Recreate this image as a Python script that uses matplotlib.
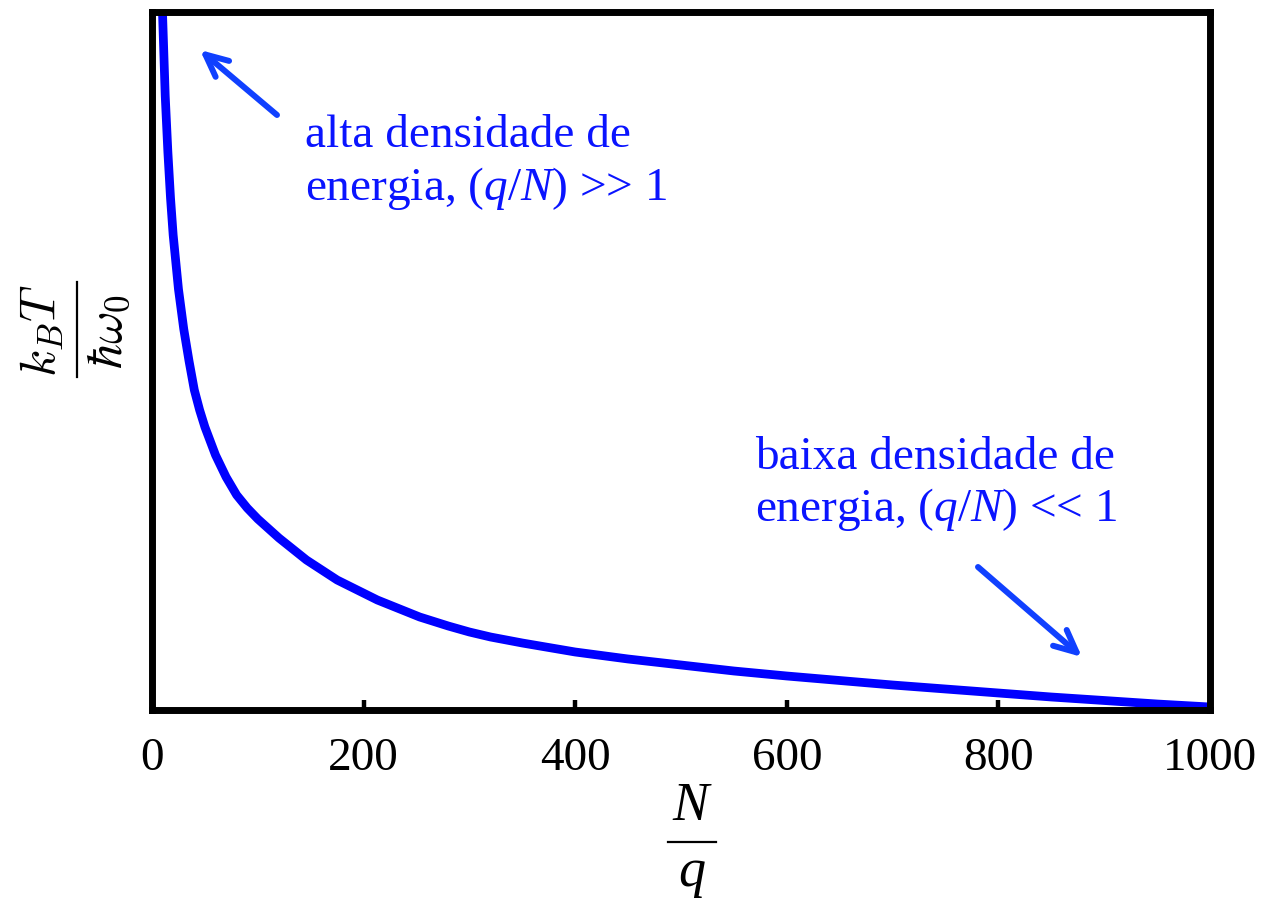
import matplotlib
matplotlib.use("Agg")
import matplotlib.pyplot as plt
from matplotlib.lines import Line2D

# Data (x = N/q, y in arbitrary units of k_B T / hbar w0)
x_vals = [8, 10, 12.5, 15, 17.5, 20, 25, 30, 35, 40, 45, 50, 60, 70, 80, 90,
          100, 120, 146, 175, 213, 253, 280, 300, 320, 350, 400, 450, 500,
          550, 600, 650, 700, 750, 800, 850, 900, 950, 1000]
y_vals = [788, 695, 614, 558, 512, 475, 421, 381, 349, 320, 300, 283, 255,
          233, 215, 202, 191, 172, 150, 130, 110, 93, 84, 78, 73, 67, 58, 51,
          45, 39, 34, 29.5, 25, 21, 17, 13, 9.5, 6, 3]
x_ticks = [0, 200, 400, 600, 800, 1000]
x_ticklabels = ["0", "200", "400", "600", "800", "1000"]

plt.rcParams['mathtext.fontset'] = 'custom'
plt.rcParams['mathtext.rm'] = 'Liberation Serif'
plt.rcParams['mathtext.it'] = 'Liberation Serif:italic'
plt.rcParams['mathtext.bf'] = 'Liberation Serif:bold'

W, H = 1266, 899
fig = plt.figure(figsize=(W / 100, H / 100), dpi=100)
L, R, T, B = 152, 1210, 12, 710
ax = fig.add_axes([L / W, 1 - B / H, (R - L) / W, (B - T) / H])

ax.plot(x_vals, y_vals, color='#0000ff', lw=6.3, solid_capstyle='butt',
        solid_joinstyle='round')
ax.set_xlim(0, 1000)
ax.set_ylim(0, 698)

for s in ax.spines.values():
    s.set_linewidth(5)
    s.set_color('black')

ax.set_xticks(x_ticks)
ax.set_xticklabels(x_ticklabels, fontfamily='Liberation Serif', fontsize=34)
ax.tick_params(axis='x', direction='in', length=7, width=3.2, pad=20,
               top=False, bottom=True)
ax.set_yticks([])

def fx(px):
    return px / W

def fy(py):
    return 1 - py / H

# x axis label: N over q
fig.text(fx(692), fy(820), r'$N$', fontsize=39, ha='center', va='baseline',
         math_fontfamily='custom')
fig.add_artist(Line2D([fx(668), fx(716)], [fy(842), fy(842)],
                      transform=fig.transFigure, color='black', lw=1.6))
fig.text(fx(692), fy(886), r'$q$', fontsize=39, ha='center', va='baseline',
         math_fontfamily='custom')

# y axis label: k_B T over hbar omega_0
fig.text(fx(42), fy(330), r'$k_B T$', fontsize=36, ha='center', va='center',
         rotation=90, math_fontfamily='cm')
fig.add_artist(Line2D([fx(77), fx(77)], [fy(282), fy(377)],
                      transform=fig.transFigure, color='black', lw=1.6))
fig.text(fx(108), fy(332), r'$\hbar\omega_0$', fontsize=36, ha='center',
         va='center', rotation=90, math_fontfamily='cm')

def px2data(px, py):
    return (px - L) / ((R - L) / 1000.0), (B - py)

txt_color = '#0a14ff'
arr_color = '#1040ff'
fs = 34

def put(px, py, s):
    x, y = px2data(px, py)
    ax.text(x, y, s, fontsize=fs, color=txt_color, family='Liberation Serif',
            ha='left', va='baseline', math_fontfamily='custom')

put(305, 147, 'alta densidade de')
put(305, 200, 'energia, ($q$/$N$) >> 1')
put(755, 469, 'baixa densidade de')
put(755, 521, 'energia, ($q$/$N$) << 1')

def arrow(p0, p1):
    ax.annotate('', xy=px2data(*p1), xytext=px2data(*p0),
                arrowprops=dict(arrowstyle='->,head_length=1.6,head_width=0.75',
                                color=arr_color, lw=4.3, shrinkA=0, shrinkB=0,
                                joinstyle='round', capstyle='round'))

arrow((277, 115), (200, 50))
arrow((978, 567), (1082, 657))

fig.savefig('out.png', dpi=100)
